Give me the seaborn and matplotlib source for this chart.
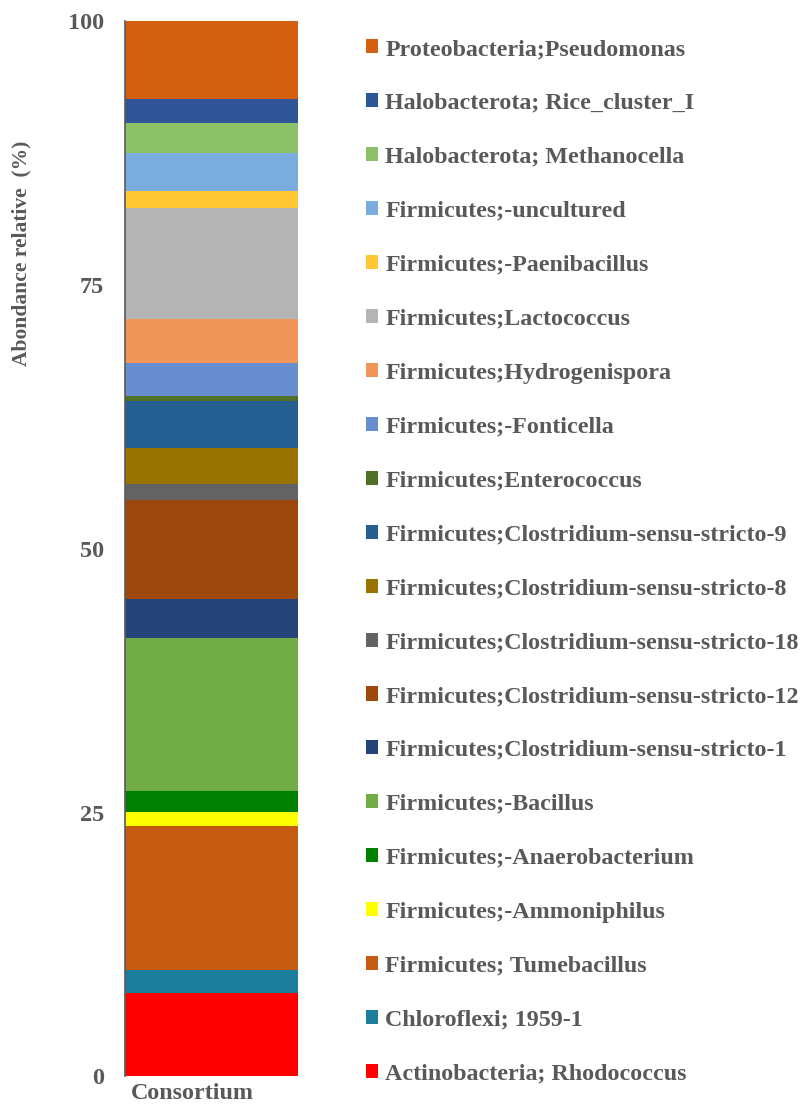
import numpy as np
import pandas as pd
import seaborn as sns
import matplotlib.pyplot as plt
import matplotlib.transforms as mtransforms
from matplotlib.patches import Patch

# taxa listed bottom -> top of the stacked bar
taxa = ['Actinobacteria; Rhodococcus', 'Chloroflexi; 1959-1', 'Firmicutes; Tumebacillus',
        'Firmicutes;-Ammoniphilus', 'Firmicutes;-Anaerobacterium', 'Firmicutes;-Bacillus',
        'Firmicutes;Clostridium-sensu-stricto-1', 'Firmicutes;Clostridium-sensu-stricto-12',
        'Firmicutes;Clostridium-sensu-stricto-18', 'Firmicutes;Clostridium-sensu-stricto-8',
        'Firmicutes;Clostridium-sensu-stricto-9', 'Firmicutes;Enterococcus',
        'Firmicutes;-Fonticella', 'Firmicutes;Hydrogenispora', 'Firmicutes;Lactococcus',
        'Firmicutes;-Paenibacillus', 'Firmicutes;-uncultured', 'Halobacterota; Methanocella',
        'Halobacterota; Rice_cluster_I', 'Proteobacteria;Pseudomonas']
abundance = [7.9, 2.2, 13.6, 1.35, 2.0, 14.5, 3.7, 9.35, 1.58, 3.35,
             4.52, 0.44, 3.1, 4.16, 10.56, 1.58, 3.63, 2.83, 2.26, 7.39]
colors = ['#FF0000', '#1B7F9B', '#C55A11', '#FFFF00', '#008000', '#70AD47',
          '#264478', '#9E480E', '#636363', '#997300', '#255E91', '#4E7027',
          '#698ED0', '#F0965A', '#B4B4B4', '#FFC832', '#7AADDE', '#8CC168',
          '#2F5597', '#D2600F']
sample = 'Consortium'

df = pd.DataFrame({'taxon': taxa, 'value': abundance, 'color': colors})
df['bottom'] = df['value'].cumsum() - df['value']

sns.set_style('white')
plt.rcParams['font.family'] = ['Liberation Serif', 'DejaVu Serif']
plt.rcParams['font.weight'] = 'bold'
grey = '#595959'

fig = plt.figure(figsize=(8.03, 11.05), dpi=100)
ax = fig.add_axes([125 / 803, 0.0258, 173 / 803, 0.9549])

for _, row in df.iterrows():
    sns.barplot(x=[sample], y=[row['value']], bottom=row['bottom'], color=row['color'],
                width=0.8, saturation=1, linewidth=0, ax=ax)

ax.set_xlim(-0.4, 0.4)
ax.set_ylim(0, 100)
ax.set_yticks([0, 25, 50, 75, 100])
sns.despine(ax=ax, top=True, right=True, bottom=True)
ax.spines['left'].set_color(grey)
ax.spines['left'].set_linewidth(1.2)
ax.tick_params(axis='y', length=5, width=1, color=grey, pad=10, labelsize=17.5, labelcolor=grey)
ax.tick_params(axis='x', length=0, pad=5, labelsize=17.3, labelcolor=grey)
for lbl in ax.get_xticklabels():
    lbl.set_transform(lbl.get_transform() + mtransforms.ScaledTranslation(-19 / 100, 0, fig.dpi_scale_trans))
for lbl in ax.get_xticklabels() + ax.get_yticklabels():
    lbl.set_fontweight('bold')
ax.set_xlabel('')
ax.set_ylabel('Abondance relative  (%)', fontsize=15.5, color=grey, fontweight='bold')
ax.yaxis.set_label_coords(-94 / 173, 0.78)

handles = [Patch(facecolor=c, edgecolor='none') for c in colors[::-1]]
leg = fig.legend(handles, taxa[::-1], loc='upper left', bbox_to_anchor=(366 / 803, 1 - 39 / 1105),
                 frameon=False, fontsize=17.3, handlelength=0.52, handleheight=0.52,
                 handletextpad=0.28, labelspacing=1.37, borderpad=0, borderaxespad=0)
for t in leg.get_texts():
    t.set_color(grey)
    t.set_fontweight('bold')

fig.savefig('out.png', dpi=100)
